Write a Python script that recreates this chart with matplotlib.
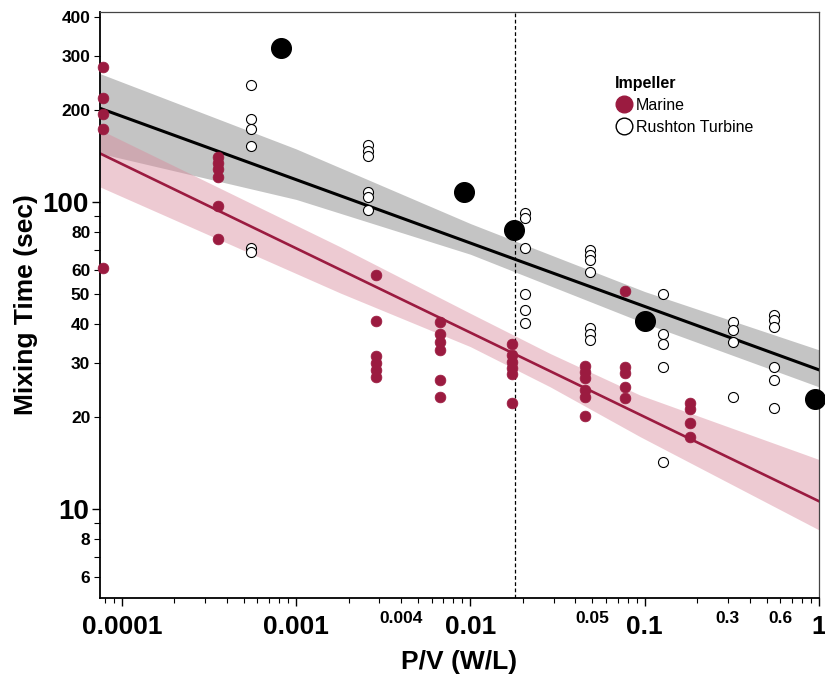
import matplotlib
matplotlib.use("Agg")
import matplotlib.pyplot as plt
import numpy as np
from matplotlib.ticker import FixedLocator, FixedFormatter, NullFormatter
from matplotlib.lines import Line2D

plt.rcParams['font.family'] = ['Liberation Sans', 'DejaVu Sans']

# ---------------- data ----------------
marine_x = [7.8e-5, 7.8e-5, 7.8e-5, 7.8e-5, 7.8e-5,
            3.58e-4, 3.58e-4, 3.58e-4, 3.58e-4, 3.58e-4, 3.58e-4,
            2.88e-3, 2.88e-3, 2.88e-3, 2.88e-3, 2.88e-3, 2.88e-3,
            6.73e-3, 6.73e-3, 6.73e-3, 6.73e-3, 6.73e-3, 6.73e-3,
            0.0173, 0.0173, 0.0173, 0.0173, 0.0173, 0.0173,
            0.0452, 0.0452, 0.0452, 0.0452, 0.0452, 0.0452,
            0.0773, 0.0773, 0.0773, 0.0773, 0.0773,
            0.182, 0.182, 0.182, 0.182]
marine_y = [276, 219, 194, 173, 61,
            140, 134, 128, 121, 97, 76,
            58, 41, 31.4, 29.8, 28.4, 27,
            40.7, 37.3, 35.1, 32.9, 26.3, 23.2,
            34.4, 31.8, 30.2, 28.7, 27.5, 22.1,
            29.3, 27.9, 26.8, 24.4, 23.2, 20.1,
            51.5, 29.1, 27.7, 25.0, 23.0,
            22.2, 21.1, 19.0, 17.2]

rushton_x = [5.54e-4, 5.54e-4, 5.54e-4, 5.54e-4, 5.54e-4, 5.54e-4,
             2.58e-3, 2.58e-3, 2.58e-3, 2.58e-3, 2.58e-3, 2.58e-3,
             0.0205, 0.0205, 0.0205, 0.0205, 0.0205, 0.0205,
             0.0487, 0.0487, 0.0487, 0.0487, 0.0487, 0.0487, 0.0487,
             0.127, 0.127, 0.127, 0.127, 0.127,
             0.320, 0.320, 0.320, 0.320,
             0.552, 0.552, 0.552, 0.552, 0.552, 0.552]
rushton_y = [240, 186, 173, 152, 71, 68.5,
             153, 147, 141, 108, 104, 94,
             92, 88.5, 70.7, 50.1, 44.4, 40.4,
             69.8, 67.2, 64.7, 59.3, 38.9, 37.2, 35.5,
             50.1, 37.3, 34.4, 29.1, 14.2,
             40.6, 38.3, 35.1, 23.1,
             42.8, 41.3, 39.3, 29.1, 26.4, 21.3]

big_x = [8.22e-4, 9.16e-3, 0.0177, 0.0998, 0.95]
big_y = [317, 108, 81, 41, 22.8]

# fitted lines (end points)
fit_x = [7.5e-5, 1.0]
rushton_fit_y = [202, 28.4]
marine_fit_y = [144, 10.6]

# confidence bands
rushton_band_x = [7.5e-5, 0.001, 0.01, 0.1, 1.0]
rushton_band_lo = [144, 102, 67.6, 40.3, 25.0]
rushton_band_hi = [262, 149, 85.1, 51.1, 33.0]

marine_band_x = [7.5e-5, 0.0018, 0.01, 0.0287, 0.0942, 1.0]
marine_band_lo = [112, 50.5, 33.8, 25.0, 17.2, 8.55]
marine_band_hi = [172, 71.4, 43.4, 32.1, 23.5, 14.5]

ref_x = 0.018

x_major = [0.0001, 0.001, 0.01, 0.1, 1]
x_major_labels = ['0.0001', '0.001', '0.01', '0.1', '1']
x_small_labelled = {0.004: '0.004', 0.05: '0.05', 0.3: '0.3', 0.6: '0.6'}
y_major = [10, 100]
y_major_labels = ['10', '100']
y_minor = [6, 7, 8, 9, 20, 30, 40, 50, 60, 70, 80, 90, 200, 300, 400]
y_minor_labels = ['6', '', '8', '', '20', '30', '40', '50', '60', '', '80', '', '200', '300', '400']

# ---------------- plot ----------------
MAROON = '#9b1b40'
fig = plt.figure(figsize=(8.25, 6.82), dpi=100)
ax = fig.add_axes([100/825, 1-598/682, 719/825, 586/682])
ax.set_xscale('log')
ax.set_yscale('log')
ax.set_xlim(7.5e-5, 1.0)
ax.set_ylim(5.13, 416)

ax.fill_between(rushton_band_x, rushton_band_lo, rushton_band_hi,
                color='#c4c4c4', lw=0, zorder=1)
ax.fill_between(marine_band_x, marine_band_lo, marine_band_hi,
                color='#d98a9c', alpha=0.45, lw=0, zorder=1.5)
ax.plot(fit_x, rushton_fit_y, color='black', lw=2.2, zorder=2)
ax.plot(fit_x, marine_fit_y, color=MAROON, lw=1.9, zorder=2)
ax.axvline(ref_x, color='black', lw=0.9, ls=(0, (3, 2)), zorder=2.5)

ax.scatter(marine_x, marine_y, s=60, color=MAROON, edgecolors=MAROON,
           lw=0.5, zorder=3, clip_on=False)
ax.scatter(rushton_x, rushton_y, s=52, facecolors='white', edgecolors='black',
           lw=0.8, zorder=3.2, clip_on=False)
ax.scatter(big_x, big_y, s=200, color='black', zorder=4, clip_on=False)

# ticks
ax.xaxis.set_major_locator(FixedLocator(x_major))
ax.xaxis.set_major_formatter(FixedFormatter(x_major_labels))
x_minor = []
x_minor_labels = []
for dec in [1e-5, 1e-4, 1e-3, 1e-2, 1e-1]:
    for m in range(2, 10):
        v = round(m * dec, 8)
        if 7.5e-5 <= v <= 1.0:
            x_minor.append(v)
            x_minor_labels.append(x_small_labelled.get(v, ''))
ax.xaxis.set_minor_locator(FixedLocator(x_minor))
ax.xaxis.set_minor_formatter(FixedFormatter(x_minor_labels))

ax.yaxis.set_major_locator(FixedLocator(y_major))
ax.yaxis.set_major_formatter(FixedFormatter(y_major_labels))
ax.yaxis.set_minor_locator(FixedLocator(y_minor))
ax.yaxis.set_minor_formatter(FixedFormatter(y_minor_labels))

ax.tick_params(axis='x', which='major', length=6, width=1, labelsize=19, pad=6)
ax.tick_params(axis='x', which='minor', length=3.5, width=0.8, labelsize=12.5, pad=6)
ax.tick_params(axis='y', which='major', length=6, width=1, labelsize=20, pad=2)
ax.tick_params(axis='y', which='minor', length=4, width=0.8, labelsize=12.5, pad=3)
for lab in ax.get_xticklabels(which='both') + ax.get_yticklabels(which='both'):
    lab.set_fontweight('bold')

for s in ['left', 'bottom']:
    ax.spines[s].set_linewidth(1.3)
for s in ['top', 'right']:
    ax.spines[s].set_linewidth(0.9)
    ax.spines[s].set_color('#444444')

ax.set_xlabel('P/V (W/L)', fontsize=19, fontweight='bold', labelpad=8)
ax.set_ylabel('Mixing Time (sec)', fontsize=19, fontweight='bold', labelpad=3)

handles = [Line2D([], [], ls='none', marker='o', markersize=12,
                  markerfacecolor=MAROON, markeredgecolor=MAROON),
           Line2D([], [], ls='none', marker='o', markersize=12,
                  markerfacecolor='white', markeredgecolor='black', markeredgewidth=1.0)]
leg = ax.legend(handles, ['Marine', 'Rushton Turbine'], title='Impeller',
                loc='upper left', bbox_to_anchor=(0.705, 0.905), frameon=False,
                fontsize=11.5, handletextpad=0.1, labelspacing=0.45,
                borderpad=0, handlelength=1.2, alignment='left')
leg.get_title().set_fontweight('bold')
leg.get_title().set_fontsize(11.5)

fig.savefig('out.png', dpi=100)
